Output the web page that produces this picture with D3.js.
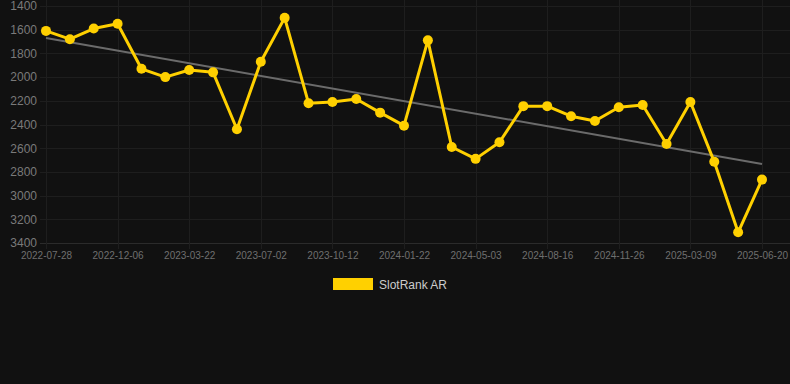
<!DOCTYPE html>
<html>
<head>
<meta charset="utf-8">
<script src="https://cdn.jsdelivr.net/npm/d3@7"></script>
<style>
  body { margin: 0; background: #111111; }
  svg { display: block; font-family: "Liberation Sans", Arial, sans-serif; }
</style>
</head>
<body>
<script>
// dates for every point, only every third one gets a label on the axis
const dates = [
  "2022-07-28", "2022-09-10", "2022-10-24", "2022-12-06", "2023-01-10", "2023-02-15",
  "2023-03-22", "2023-04-25", "2023-05-29", "2023-07-02", "2023-08-05", "2023-09-08",
  "2023-10-12", "2023-11-15", "2023-12-19", "2024-01-22", "2024-02-25", "2024-03-30",
  "2024-05-03", "2024-06-06", "2024-07-11", "2024-08-16", "2024-09-19", "2024-10-23",
  "2024-11-26", "2024-12-30", "2025-02-03", "2025-03-09", "2025-04-12", "2025-05-16",
  "2025-06-20"
];
const rankAR = [
  1610, 1680, 1590, 1550, 1930, 2000, 1940, 1960, 2440, 1870, 1500,
  2220, 2210, 2185, 2300, 2410, 1690, 2590, 2690, 2550, 2245,
  2245, 2330, 2370, 2255, 2235, 2565, 2210, 2715, 3310, 2865
];
const yTicks = [1400, 1600, 1800, 2000, 2200, 2400, 2600, 2800, 3000, 3200, 3400];
const seriesName = "SlotRank AR";

const width = 790, height = 384;
const plotLeft = 46, plotRight = 762, plotTop = 6, plotBottom = 243;

const svg = d3.select("body").append("svg")
  .attr("width", width)
  .attr("height", height)
  .style("background", "#111111");

const xScale = d3.scalePoint()
  .domain(dates)
  .range([plotLeft, plotRight]);

// rank axis: low numbers on top
const yScale = d3.scaleLinear()
  .domain([1400, 3400])
  .range([plotTop, plotBottom]);

const labelled = dates.filter((d, i) => i % 3 === 0);

// horizontal grid
svg.append("g")
  .selectAll("line")
  .data(yTicks)
  .enter()
  .append("line")
  .attr("x1", 40)
  .attr("x2", width)
  .attr("y1", d => Math.round(yScale(d)) + 0.5)
  .attr("y2", d => Math.round(yScale(d)) + 0.5)
  .attr("stroke", d => d === 3400 ? "#2b2b2b" : "#1e1e1e")
  .attr("stroke-width", 1);

// vertical grid at labelled dates
svg.append("g")
  .selectAll("line")
  .data(labelled)
  .enter()
  .append("line")
  .attr("x1", d => Math.round(xScale(d)) + 0.5)
  .attr("x2", d => Math.round(xScale(d)) + 0.5)
  .attr("y1", 0)
  .attr("y2", plotBottom + 6)
  .attr("stroke", "#1e1e1e")
  .attr("stroke-width", 1);

// y labels
const yAxis = d3.axisLeft(yScale)
  .tickValues(yTicks)
  .tickFormat(d3.format("d"))
  .tickSize(0)
  .tickPadding(0);
const gY = svg.append("g")
  .attr("transform", "translate(37,0)")
  .call(yAxis);
gY.select(".domain").remove();
gY.selectAll("text")
  .attr("fill", "#7a7a7a")
  .style("font-size", "12px")
  .style("font-family", "Liberation Sans, Arial, sans-serif");

// x labels
const xAxis = d3.axisBottom(xScale).tickValues(labelled).tickSize(0).tickPadding(0);
const gX = svg.append("g")
  .attr("transform", "translate(0," + (plotBottom + 9) + ")")
  .call(xAxis);
gX.select(".domain").remove();
gX.selectAll("text")
  .attr("fill", "#6f6f6f")
  .style("font-size", "10px")
  .style("font-family", "Liberation Sans, Arial, sans-serif");

// least squares trend over the series
const n = rankAR.length;
const meanI = (n - 1) / 2;
const meanY = d3.mean(rankAR);
const slope = d3.sum(rankAR, (v, i) => (i - meanI) * (v - meanY)) /
  d3.sum(rankAR, (v, i) => (i - meanI) * (i - meanI));
const trendStart = meanY - slope * meanI;
const trendEnd = meanY + slope * meanI;

svg.append("line")
  .attr("x1", xScale(dates[0]))
  .attr("x2", xScale(dates[n - 1]))
  .attr("y1", yScale(trendStart))
  .attr("y2", yScale(trendEnd))
  .attr("stroke", "#6b6b6b")
  .attr("stroke-width", 2);

// series line
const line = d3.line()
  .x((d, i) => xScale(dates[i]))
  .y(d => yScale(d));

svg.append("path")
  .datum(rankAR)
  .attr("d", line)
  .attr("fill", "none")
  .attr("stroke", "#ffd000")
  .attr("stroke-width", 3)
  .attr("stroke-linejoin", "round");

svg.selectAll("circle.pt")
  .data(rankAR)
  .enter()
  .append("circle")
  .attr("class", "pt")
  .attr("cx", (d, i) => xScale(dates[i]))
  .attr("cy", d => yScale(d))
  .attr("r", 5)
  .attr("fill", "#ffd000");

// legend
svg.append("rect")
  .attr("x", 333)
  .attr("y", 278)
  .attr("width", 40)
  .attr("height", 12)
  .attr("fill", "#ffd000");

svg.append("text")
  .attr("x", 379)
  .attr("y", 289)
  .attr("fill", "#cccccc")
  .style("font-size", "12px")
  .text(seriesName);
</script>
</body>
</html>
